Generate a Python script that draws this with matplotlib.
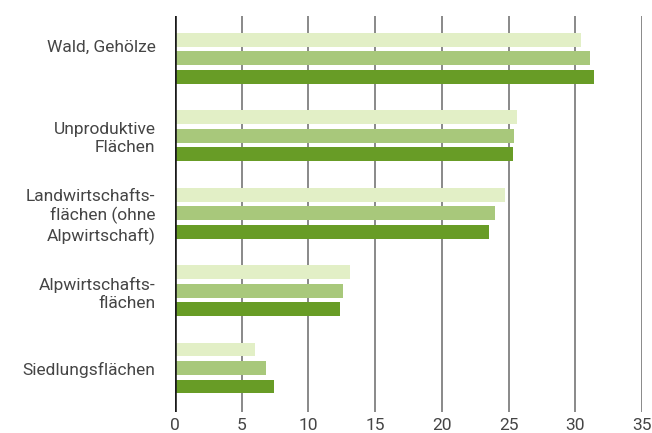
import matplotlib
matplotlib.use("Agg")
import matplotlib.pyplot as plt
import matplotlib.transforms as mtransforms
import numpy as np

categories = ["Wald, Gehölze", "Unproduktive\nFlächen",
              "Landwirtschafts-\nflächen (ohne\nAlpwirtschaft)",
              "Alpwirtschafts-\nflächen", "Siedlungsflächen"]
series_light = [30.4, 25.6, 24.7, 13.1, 6.0]
series_medium = [31.1, 25.4, 24.0, 12.6, 6.8]
series_dark = [31.4, 25.3, 23.5, 12.4, 7.4]
xticks = [0, 5, 10, 15, 20, 25, 30, 35]

colors = ["#e2efc6", "#a8c87b", "#689c26"]

plt.rcParams['font.family'] = ['Roboto', 'DejaVu Sans']

fig = plt.figure(figsize=(6.52, 4.33), dpi=100)
ax = fig.add_axes([175/652, 1-412/433, (642-175)/652, (412-16)/433])

y = np.arange(len(categories))
off = 0.239
h = 0.18
for vals, dy, c in zip([series_light, series_medium, series_dark], [-off, 0, off], colors):
    ax.barh(y + dy, vals, height=h, color=c, zorder=3)

ax.set_xlim(0, 35)
ax.set_ylim(4.568, -0.547)
ax.set_xticks(xticks)
ax.set_xticklabels([str(t) for t in xticks], fontsize=12.5, color="#454545")
ax.tick_params(axis='x', length=0, pad=4)
ax.tick_params(axis='y', length=0, pad=14)
ax.set_yticks(y)
ax.set_yticklabels(categories, fontsize=12.5, color="#454545",
                   linespacing=1.25, ha="right", multialignment="right")
# shift the first label upward
lbl = ax.get_yticklabels()[0]
lbl.set_transform(lbl.get_transform() + mtransforms.ScaledTranslation(0, 13/100, fig.dpi_scale_trans))

for s in ax.spines.values():
    s.set_visible(False)
for t in xticks[1:]:
    ax.axvline(t, color="#6a6a6a", lw=1.1, zorder=1)
ax.axvline(0, color="#1a1a1a", lw=2.6, zorder=4)

fig.savefig("out.png", dpi=100)
